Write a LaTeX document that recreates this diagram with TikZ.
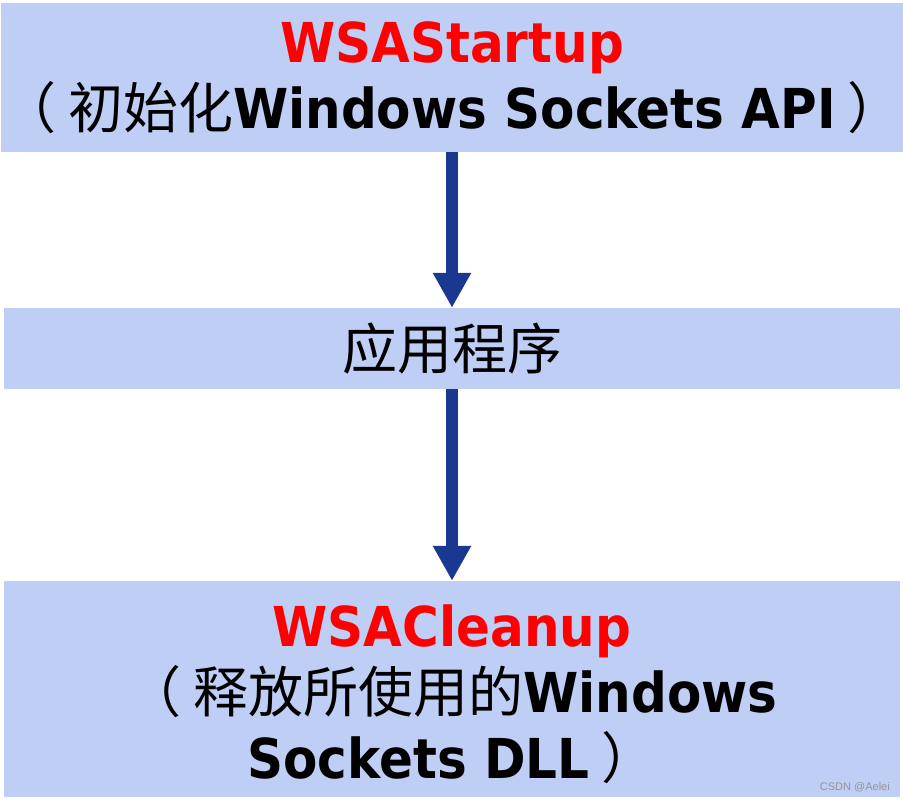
\documentclass[tikz,border=0pt]{standalone}
\usepackage{fontspec}
\setmainfont{DejaVu Sans}[FakeStretch=0.91]
\newfontfamily\cjk{Noto Sans CJK SC}
\newfontfamily\wmfont{Liberation Sans}
\usetikzlibrary{arrows.meta}
\definecolor{boxfill}{RGB}{191,206,245}
\definecolor{arrowblue}{RGB}{26,55,145}
\definecolor{wsared}{RGB}{255,0,0}
\definecolor{wmgray}{RGB}{150,150,150}
\newcommand{\lpar}{{\cjk （}\hspace{12pt}}
\newcommand{\rpar}{\hspace{12pt}{\cjk ）}}
\begin{document}
\begin{tikzpicture}[x=1pt,y=-1pt,
  box/.style={fill=boxfill, draw=none, minimum width=896pt, inner sep=0pt,
    align=center, font=\fontsize{55}{66}\selectfont},
  flow/.style={draw=arrowblue, line width=12.7pt, -{Triangle[width=36pt,length=35pt]}},
  wm/.style={text=wmgray, font=\wmfont\fontsize{11}{12}\selectfont, inner sep=0pt}]
\useasboundingbox (0,0) rectangle (903,802);
\fill[white] (0,0) rectangle (903,802);
\node[box, minimum height=149pt] (startup) at (452,77.5)
  {{\bfseries\color{wsared}WSAStartup}\\
   \lpar{\cjk 初始化}{\bfseries Windows Sockets API}\rpar};
\node[box, minimum height=81pt] (app) at (452,348.5) {{\cjk 应用程序}};
\node[box, minimum height=216pt] (cleanup) at (452,689)
  {\rule{0pt}{53pt}{\bfseries\color{wsared}WSACleanup}\\
   \lpar{\cjk 释放所使用的}{\bfseries Windows}\\
   {\bfseries Sockets DLL}\rpar};
\draw[flow] (startup.south) -- (app.north);
\draw[flow] (app.south) -- (cleanup.north);
\node[wm, anchor=east] (mark) at (890,787) {CSDN @Aelei};
\end{tikzpicture}
\end{document}
